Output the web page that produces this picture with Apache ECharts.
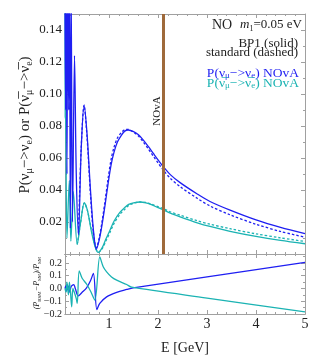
<!DOCTYPE html>
<html>
<head>
<meta charset="utf-8">
<title>NO m1=0.05 eV</title>
<script src="https://cdn.jsdelivr.net/npm/echarts@6/dist/echarts.min.js"></script>
<style>
  html, body { margin: 0; background: #fff; }
  #chart { width: 324px; height: 358px; }
</style>
</head>
<body>
<div id="chart"></div>
<script>
// values (E in GeV)
const eNu = [0.10, 0.112, 0.125, 0.14, 0.155, 0.175, 0.19, 0.21, 0.225, 0.253, 0.294, 0.33, 0.375, 0.43, 0.49, 0.55, 0.62, 0.68, 0.74, 0.8, 0.86, 0.92, 0.98, 1.04, 1.1, 1.17, 1.25, 1.32, 1.39, 1.5, 1.6, 1.7, 1.8, 1.9, 2.0, 2.1, 2.25, 2.45, 2.8, 3.06, 3.47, 4.0, 4.5, 5.0];
const pNuBP1 = [0.16, 0.09, 0.17, 0.05, 0.17, 0.09, 0.17, 0.016, 0.17, 0.02, 0.124, 0.05, 0.012, 0.065, 0.093, 0.075, 0.04, 0.015, 0.003, 0.009, 0.019, 0.031, 0.044, 0.0555, 0.0635, 0.07, 0.0742, 0.0768, 0.0775, 0.0765, 0.0745, 0.0712, 0.0672, 0.063, 0.0588, 0.0548, 0.0496, 0.0446, 0.0375, 0.0328, 0.0274, 0.0213, 0.0166, 0.0127];

const eNuStd = [0.375, 0.43, 0.49, 0.55, 0.62, 0.68, 0.74, 0.8, 0.86, 0.92, 0.98, 1.04, 1.1, 1.17, 1.25, 1.32, 1.39, 1.5, 1.6, 1.7, 1.8, 1.9, 2.0, 2.1, 2.25, 2.45, 2.8, 3.06, 3.47, 4.0, 4.5, 5.0];
const pNuStd = [0.013, 0.066, 0.093, 0.073, 0.037, 0.013, 0.004, 0.0103, 0.021, 0.0336, 0.0472, 0.0589, 0.0667, 0.0725, 0.0759, 0.0777, 0.0779, 0.0761, 0.0737, 0.07, 0.0657, 0.0613, 0.0569, 0.0527, 0.0473, 0.0421, 0.0348, 0.03, 0.0245, 0.0186, 0.0141, 0.0105];

const eNb = [0.10, 0.105, 0.115, 0.14, 0.188, 0.22, 0.27, 0.35, 0.42, 0.494, 0.56, 0.64, 0.72, 0.78, 0.86, 0.93, 1.02, 1.1, 1.22, 1.32, 1.4, 1.5, 1.63, 1.75, 1.85, 2.0, 2.1, 2.25, 2.45, 2.8, 3.06, 3.47, 4.0, 4.5, 5.0];
const pNbBP1 = [0.17, 0.086, 0.084, 0.01, 0.046, 0.008, 0.039, 0.006, 0.02, 0.032, 0.027, 0.014, 0.004, 0.001, 0.004, 0.009, 0.015, 0.0205, 0.026, 0.029, 0.031, 0.032, 0.0325, 0.032, 0.031, 0.029, 0.0277, 0.0255, 0.0232, 0.0195, 0.0172, 0.0142, 0.011, 0.0085, 0.0064];

const eNbStd = [0.35, 0.42, 0.494, 0.56, 0.64, 0.72, 0.78, 0.86, 0.93, 1.02, 1.1, 1.22, 1.32, 1.4, 1.5, 1.63, 1.75, 1.85, 2.0, 2.1, 2.25, 2.45, 2.8, 3.06, 3.47, 4.0, 4.5, 5.0];
const pNbStd = [0.006, 0.02, 0.032, 0.027, 0.015, 0.0045, 0.001, 0.0033, 0.0078, 0.0136, 0.019, 0.0248, 0.0279, 0.0304, 0.0317, 0.0325, 0.0322, 0.0313, 0.0296, 0.0284, 0.0264, 0.0243, 0.0208, 0.0186, 0.0158, 0.0126, 0.0101, 0.0078];

// (P_BSM - P_SM)/P_SM
const eRatioNu = [0.10, 0.115, 0.13, 0.145, 0.16, 0.18, 0.2, 0.22, 0.25, 0.28, 0.31, 0.37, 0.45, 0.54, 0.62, 0.68, 0.75, 0.81, 0.95, 1.155, 1.36, 1.49, 3.0, 5.0];
const rNu = [0, 0.02, -0.02, 0.03, -0.01, 0.02, -0.03, 0.01, 0.025, 0.03, 0.0, -0.058, -0.03, 0.005, 0.06, 0.118, -0.165, -0.117, -0.066, -0.031, -0.008, 0.005, 0.09, 0.204];

const eRatioNb = [0.10, 0.12, 0.14, 0.17, 0.19, 0.21, 0.237, 0.26, 0.29, 0.33, 0.35, 0.39, 0.45, 0.54, 0.62, 0.71, 0.81, 0.88, 0.95, 1.05, 1.155, 1.36, 1.46, 3.0, 5.0];
const rNb = [0, -0.03, 0.05, -0.05, 0.05, -0.02, -0.144, 0.0, -0.03, -0.08, -0.117, 0.138, 0.08, 0.035, -0.02, -0.092, 0.248, 0.17, 0.13, 0.09, 0.065, 0.031, 0.01, -0.075, -0.183];

const novaE = 2.1;
const majorE = [1, 2, 3, 4, 5];
const minorE = [0.2, 0.4, 0.6, 0.8, 1.2, 1.4, 1.6, 1.8, 2.2, 2.4, 2.6, 2.8, 3.2, 3.4, 3.6, 3.8, 4.2, 4.4, 4.6, 4.8];

const BLUE = '#1f1ff2';
const CYAN = '#1bb3b3';
const BROWN = '#9f6a3b';
const FRAME = '#a0a0a0';
const SERIF = 'Liberation Serif';

const zip = (xs, ys) => xs.map((x, i) => [x, ys[i]]);

function xAx(grid, pos, values, len, withLabels) {
  return {
    type: 'value', gridIndex: grid, position: pos, min: 0.1, max: 5,
    axisLine: { show: true, onZero: false, lineStyle: { color: FRAME, width: 1 } },
    axisTick: { show: true, inside: true, length: len, customValues: values, lineStyle: { color: FRAME } },
    axisLabel: { show: withLabels, customValues: values, margin: 3, color: '#222', fontFamily: SERIF, fontSize: 14 },
    splitLine: { show: false }
  };
}

function yAx(grid, pos, min, max, step, withLabels, fmt, size) {
  return {
    type: 'value', gridIndex: grid, position: pos, min: min, max: max, interval: step,
    axisLine: { show: true, onZero: false, lineStyle: { color: FRAME, width: 1 } },
    axisTick: { show: true, inside: true, length: 4, lineStyle: { color: FRAME } },
    minorTick: { show: true, splitNumber: 2, length: 2, lineStyle: { color: FRAME } },
    axisLabel: { show: withLabels, margin: 3, showMinLabel: grid === 1, showMaxLabel: false,
      color: '#222', fontFamily: SERIF, fontSize: size, formatter: fmt },
    splitLine: { show: false }
  };
}

const fmtMain = v => v.toFixed(2);
const fmtRatio = v => (v < -1e-9 ? '\u2212' : '') + Math.abs(v).toFixed(1);

const xAxes = [];
[0, 1].forEach(g => {
  xAxes.push(xAx(g, 'bottom', majorE, 4, g === 1));
  xAxes.push(xAx(g, 'bottom', minorE, 2, false));
  xAxes.push(xAx(g, 'top', majorE, 4, false));
  xAxes.push(xAx(g, 'top', minorE, 2, false));
});
xAxes[4].name = 'E [GeV]';
xAxes[4].nameLocation = 'middle';
xAxes[4].nameGap = 27;
xAxes[4].nameTextStyle = { fontFamily: SERIF, fontSize: 14, color: '#222' };

const yAxes = [
  yAx(0, 'left', 0, 0.15, 0.02, true, fmtMain, 13),
  yAx(0, 'right', 0, 0.15, 0.02, false, fmtMain, 13),
  yAx(1, 'left', -0.2, 0.27, 0.1, true, fmtRatio, 10),
  yAx(1, 'right', -0.2, 0.27, 0.1, false, fmtRatio, 10)
];

function line(name, data, color, dashed, grid) {
  return {
    name: name, type: 'line', data: data,
    xAxisIndex: grid === 0 ? 0 : 4, yAxisIndex: grid === 0 ? 0 : 2,
    showSymbol: false, smooth: 0.3, clip: true,
    lineStyle: { color: color, width: 1.3, type: dashed ? [2.5, 2] : 'solid' },
    emphasis: { disabled: true }
  };
}

const nuBP1 = line('nu BP1', zip(eNu, pNuBP1), BLUE, false, 0);
nuBP1.markLine = {
  silent: true, symbol: 'none', label: { show: false },
  lineStyle: { color: BROWN, width: 3, type: 'solid' },
  data: [{ xAxis: novaE }]
};

function subRich(color, size, sub, lh) {
  return {
    t: { fontFamily: SERIF, fontSize: size, lineHeight: lh, verticalAlign: 'middle', fill: color },
    s: { fontFamily: SERIF, fontSize: sub, verticalAlign: 'bottom', fill: color }
  };
}

const option = {
  animation: false,
  backgroundColor: '#fff',
  grid: [
    { left: 65, top: 14, width: 240, height: 240, outerBoundsMode: 'none' },
    { left: 65, top: 254, width: 240, height: 60, outerBoundsMode: 'none' }
  ],
  xAxis: xAxes,
  yAxis: yAxes,
  series: [
    line('nubar std', zip(eNbStd, pNbStd), CYAN, true, 0),
    line('nubar BP1', zip(eNb, pNbBP1), CYAN, false, 0),
    line('nu std', zip(eNuStd, pNuStd), BLUE, true, 0),
    nuBP1,
    line('ratio nu', zip(eRatioNu, rNu), BLUE, false, 1),
    line('ratio nubar', zip(eRatioNb, rNb), CYAN, false, 1)
  ],
  graphic: [
    { type: 'text', x: 25, y: 125, rotation: Math.PI / 2,
      style: { text: '{t|P(ν}{s|μ}{t|−>ν}{s|e}{t|) or P(ν̅}{s|μ}{t|−>ν̅}{s|e}{t|)}', rich: subRich('#222', 15, 10, 18),
        align: 'center', verticalAlign: 'middle' } },
    { type: 'text', x: 37, y: 283, rotation: Math.PI / 2,
      style: { text: '{i|(P}{b|BSM}{i|−P}{b|SM}{i|)/P}{b|SM}',
        rich: {
          i: { fontFamily: SERIF, fontStyle: 'italic', fontSize: 8, lineHeight: 10, verticalAlign: 'middle', fill: '#222' },
          b: { fontFamily: SERIF, fontSize: 5, verticalAlign: 'bottom', fill: '#222' }
        },
        align: 'center', verticalAlign: 'middle' } },
    { type: 'text', x: 157, y: 111, rotation: Math.PI / 2,
      style: { text: 'NOvA', font: '11px "Liberation Serif"', fill: '#222', align: 'center', verticalAlign: 'middle' } },
    { type: 'text', x: 212, y: 25,
      style: { text: 'NO', font: '14px "Liberation Serif"', fill: '#222', align: 'left', verticalAlign: 'middle' } },
    { type: 'text', x: 302, y: 25,
      style: { text: '{m|m}{s|1}{t|=0.05 eV}', align: 'right', verticalAlign: 'middle',
        rich: {
          m: { fontFamily: SERIF, fontStyle: 'italic', fontSize: 13, lineHeight: 16, verticalAlign: 'middle', fill: '#222' },
          s: { fontFamily: SERIF, fontSize: 8, verticalAlign: 'bottom', fill: '#222' },
          t: { fontFamily: SERIF, fontSize: 13, lineHeight: 16, verticalAlign: 'middle', fill: '#222' }
        } } },
    { type: 'text', x: 298, y: 44,
      style: { text: 'BP1 (solid)', font: '13px "Liberation Serif"', fill: '#222', align: 'right', verticalAlign: 'middle' } },
    { type: 'text', x: 298, y: 53,
      style: { text: 'standard (dashed)', font: '13px "Liberation Serif"', fill: '#222', align: 'right', verticalAlign: 'middle' } },
    { type: 'text', x: 299, y: 73,
      style: { text: '{t|P(ν}{s|μ}{t|−>ν}{s|e}{t|) NOvA}', rich: subRich(BLUE, 13.5, 9, 15), align: 'right', verticalAlign: 'middle' } },
    { type: 'text', x: 299, y: 83,
      style: { text: '{t|P(ν̅}{s|μ}{t|−>ν̅}{s|e}{t|) NOvA}', rich: subRich(CYAN, 13.5, 9, 15), align: 'right', verticalAlign: 'middle' } }
  ]
};

echarts.init(document.getElementById('chart')).setOption(option);
</script>
</body>
</html>
